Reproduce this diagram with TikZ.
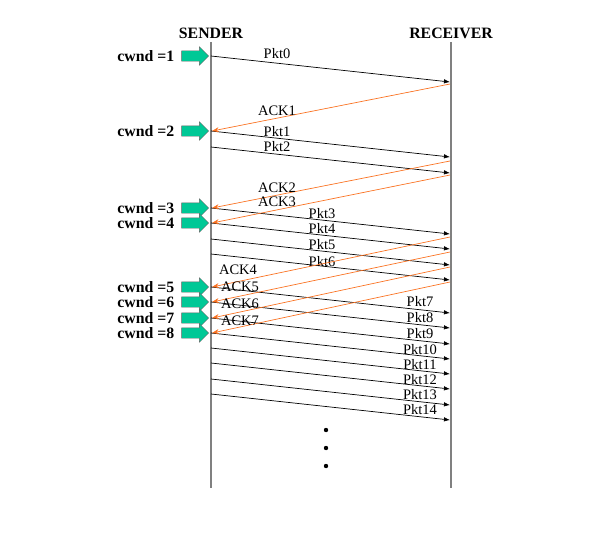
\documentclass[tikz,border=0pt]{standalone}
\usepackage{fontspec}
\setmainfont{Liberation Serif}
\usetikzlibrary{positioning,shapes.arrows,arrows.meta}
\definecolor{ackorange}{RGB}{250,115,35}
\definecolor{cwndgreen}{RGB}{0,200,150}

\begin{document}
\begin{tikzpicture}[x=1pt, y=-1pt,
    hdr/.style={font=\fontsize{15.8}{16}\selectfont\bfseries},
    lbl/.style={font=\fontsize{14.5}{15}\selectfont, inner sep=0pt},
    timeline/.style={draw=black!50, line width=1.1pt},
    pkt/.style={draw=black, line width=0.7pt, -{Latex[length=6pt,width=4.5pt]}},
    ack/.style={draw=ackorange, line width=0.7pt, -{Stealth[length=7pt,width=5pt]}},
    cwndarrow/.style={single arrow, draw=black!60, fill=cwndgreen, inner xsep=0pt,
        inner ysep=5pt, minimum height=27pt, single arrow head extend=4pt},
    cwndlbl/.style={font=\fontsize{15.8}{16}\selectfont\bfseries, inner sep=0pt}]
\useasboundingbox (0,0) rectangle (615,535);

% the two ends
\node[hdr] (sender) at (211,33) {SENDER};
\node[hdr] (receiver) at (451,33) {RECEIVER};
\coordinate (stop) at (211,42);
\coordinate (sbot) at (211,488);
\coordinate (rtop) at (451,42);
\coordinate (rbot) at (451,488);
\draw[timeline] (stop) -- (sbot);
\draw[timeline] (rtop) -- (rbot);

% packets
\foreach \n/\y in {0/56,1/131,2/147,3/208,4/223,5/239,6/254,7/287,8/302,9/318,
                   10/333,11/348,12/363,13/379,14/394} {
  \coordinate (ps\n) at (211,\y);
  \coordinate (pr\n) at (450,\y+26);
  \draw[pkt] (ps\n) -- (pr\n);
}
\foreach \n/\x/\y in {0/277/54,1/277/132,2/277/147,3/322/214,4/322/229,5/322/245,
                      6/322/262,7/420/302,8/420/318,9/420/334,10/420/350,
                      11/420/365,12/420/380,13/420/395,14/420/410}
  \node[lbl] (pl\n) at (\x,\y) {Pkt\n};

% acks
\foreach \n/\y/\z in {1/84/131,2/161/208,3/175/223,4/237/287,5/252/302,6/267/318,7/282/333} {
  \coordinate (ar\n) at (450,\y);
  \coordinate (as\n) at (212,\z);
  \draw[ack] (ar\n) -- (as\n);
}
\foreach \n/\x/\y in {1/277/111,2/277/188,3/277/202,4/238/270,5/240/287,6/240/304,7/240/321}
  \node[lbl] (al\n) at (\x,\y) {ACK\n};

% window size
\foreach \n/\y in {1/56,2/131,3/208,4/223,5/287,6/302,7/318,8/333} {
  \node[cwndarrow] (cw\n) at (192.5,\y) {};
  \node[cwndlbl, left=7pt of cw\n] (cl\n) {cwnd =\n};
}

% and so on
\foreach \y in {430,448,466}
  \fill (326,\y) circle (2.2pt);
\end{tikzpicture}
\end{document}
